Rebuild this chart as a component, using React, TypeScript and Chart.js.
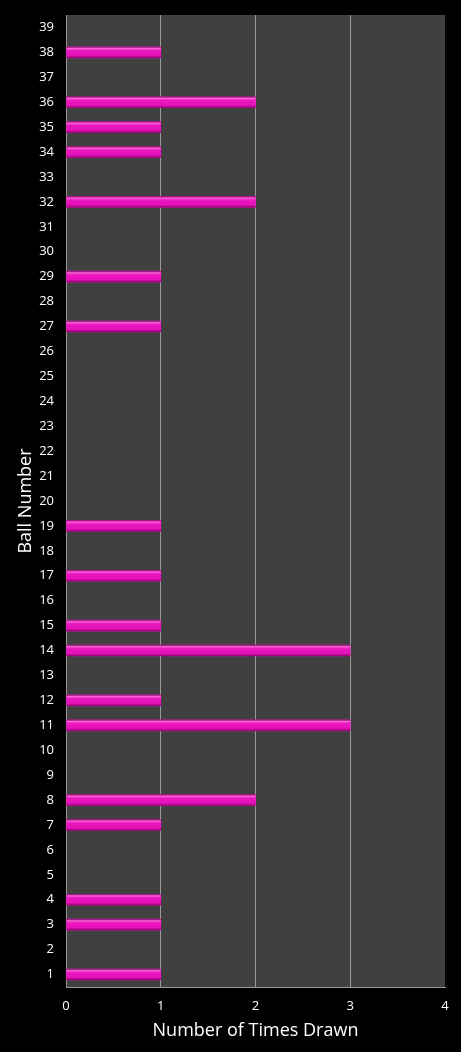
import React, { useEffect, useRef } from 'react'
import { Chart, registerables } from 'chart.js'

Chart.register(...registerables)

// ball numbers, bottom (1) to top (39)
const balls = Array.from({ length: 39 }, (_, i) => String(i + 1))
const timesDrawn = [
  1, 0, 1, 1, 0, 0, 1, 2, 0, 0, // 1-10
  3, 1, 0, 3, 1, 0, 1, 0, 1, 0, // 11-20
  0, 0, 0, 0, 0, 0, 1, 0, 1, 0, // 21-30
  0, 2, 0, 1, 1, 2, 0, 1, 0, // 31-39
]
const xTicks = [0, 1, 2, 3, 4]

const FONT = "'Open Sans', 'Noto Sans', sans-serif"

const App = () => {
  const canvasRef = useRef<HTMLCanvasElement | null>(null)

  useEffect(() => {
    document.body.style.margin = '0'
    document.body.style.background = '#000'
    if (!canvasRef.current) return

    // dark plot area behind the bars
    const plotBg = {
      id: 'plotBg',
      beforeDraw(chart: any) {
        const { ctx, chartArea: a } = chart
        ctx.save()
        ctx.fillStyle = '#404040'
        ctx.fillRect(a.left, a.top, a.right - a.left, a.bottom - a.top)
        ctx.restore()
      },
    }

    // glossy highlight on each bar
    const gloss = {
      id: 'gloss',
      afterDatasetsDraw(chart: any) {
        const { ctx } = chart
        const meta = chart.getDatasetMeta(0)
        ctx.save()
        meta.data.forEach((bar: any) => {
          const left = Math.min(bar.base, bar.x)
          const w = Math.abs(bar.x - bar.base)
          if (w < 1) return
          const top = bar.y - bar.height / 2
          const g = ctx.createLinearGradient(0, top, 0, top + bar.height)
          g.addColorStop(0, 'rgba(120,0,90,0.9)')
          g.addColorStop(0.15, 'rgba(255,120,225,0.85)')
          g.addColorStop(0.35, 'rgba(240,40,200,0.2)')
          g.addColorStop(0.75, 'rgba(200,0,160,0.1)')
          g.addColorStop(1, 'rgba(110,0,80,0.9)')
          ctx.fillStyle = g
          ctx.fillRect(left, top, w, bar.height)
        })
        ctx.restore()
      },
    }

    const chart = new Chart(canvasRef.current, {
      type: 'bar',
      data: {
        labels: balls,
        datasets: [
          {
            label: 'Times Drawn',
            data: timesDrawn,
            backgroundColor: (c: any) => (c.raw ? '#e814bc' : 'rgba(0,0,0,0)'),
            borderWidth: 0,
            barThickness: 11,
          },
        ],
      },
      options: {
        indexAxis: 'y',
        responsive: false,
        animation: false,
        layout: { padding: { top: 15, right: 16, left: 0, bottom: 0 } },
        plugins: {
          legend: { display: false },
          tooltip: { enabled: false },
        },
        scales: {
          x: {
            min: 0,
            max: 4,
            afterBuildTicks: (scale: any) => {
              scale.ticks = xTicks.map((v) => ({ value: v }))
            },
            afterFit: (scale: any) => {
              scale.height = 65
              scale.paddingLeft = 0
              scale.paddingRight = 0
            },
            grid: {
              color: (c: any) => (c.tick && c.tick.value > 0 && c.tick.value < 4 ? '#9a9a9a' : 'rgba(0,0,0,0)'),
              lineWidth: 1,
              drawTicks: false,
            },
            border: { display: true, color: '#9a9a9a', width: 1 },
            ticks: {
              color: '#ffffff',
              padding: 11,
              font: { family: FONT, size: 13 },
            },
            title: {
              display: true,
              text: 'Number of Times Drawn',
              color: '#ffffff',
              font: { family: FONT, size: 18 },
              padding: { top: 0, bottom: 10 },
            },
          },
          y: {
            reverse: true,
            afterFit: (scale: any) => {
              scale.width = 66
              scale.paddingTop = 0
              scale.paddingBottom = 0
            },
            grid: { display: false, drawTicks: false },
            border: { display: true, color: '#9a9a9a', width: 1 },
            ticks: {
              color: '#ffffff',
              padding: 12,
              autoSkip: false,
              font: { family: FONT, size: 13 },
            },
            title: {
              display: true,
              text: 'Ball Number',
              color: '#ffffff',
              font: { family: FONT, size: 18 },
              padding: { top: 15, bottom: 0 },
            },
          },
        },
      },
      plugins: [plotBg, gloss],
    })

    return () => chart.destroy()
  }, [])

  return <canvas ref={canvasRef} width={461} height={1052} style={{ display: 'block' }} />
}

export default App
